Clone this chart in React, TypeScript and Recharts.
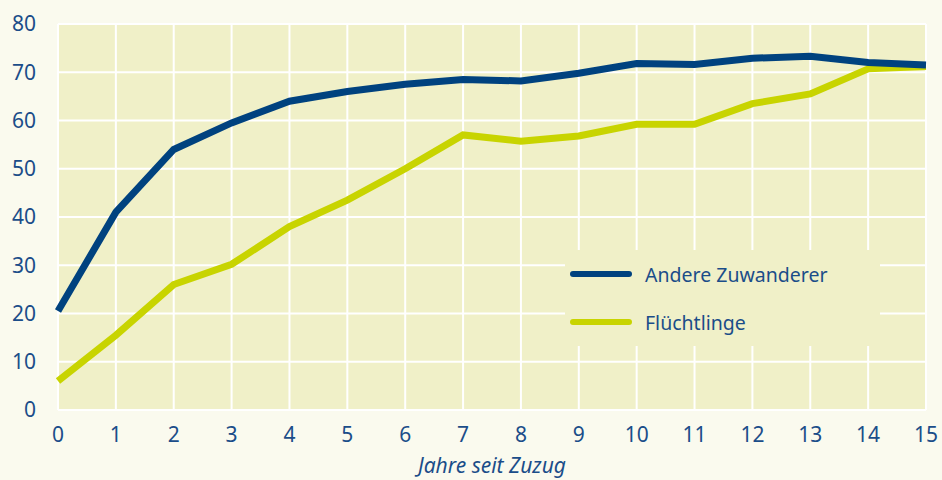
import { LineChart, Line, XAxis, YAxis, CartesianGrid } from 'recharts';

const years = [0, 1, 2, 3, 4, 5, 6, 7, 8, 9, 10, 11, 12, 13, 14, 15];
const andereZuwanderer = [20.5, 41, 54, 59.5, 64, 66, 67.5, 68.5, 68.2, 69.8, 71.8, 71.6, 72.9, 73.3, 72, 71.5];
const fluechtlinge = [6, 15.5, 26, 30.2, 38, 43.5, 50, 57, 55.7, 56.8, 59.2, 59.2, 63.5, 65.5, 70.7, 71.2];
const yTicks = [0, 10, 20, 30, 40, 50, 60, 70, 80];
const legendItems = ['Andere Zuwanderer', 'Flüchtlinge'];

const BLUE = '#00427f';
const GREEN = '#c8d400';
const TEXT = '#1b4d89';
const FONT = '"Noto Sans", sans-serif';

const data = years.map((year, i) => ({
  year,
  andere: andereZuwanderer[i],
  fluecht: fluechtlinge[i],
}));

// legend sits on a plain box over the grid, like the original
function LegendBox() {
  const colors = [BLUE, GREEN];
  return (
    <div
      style={{
        position: 'absolute',
        left: 565,
        top: 250,
        width: 315,
        height: 96,
        background: '#f0f0c8',
      }}
    >
      {legendItems.map((label, i) => (
        <div key={label} style={{ display: 'flex', alignItems: 'center', height: 48 }}>
          <svg width={77} height={10} style={{ marginLeft: 3 }}>
            <line x1={5} y1={5} x2={61} y2={5} stroke={colors[i]} strokeWidth={6} strokeLinecap="round" />
          </svg>
          <span style={{ fontFamily: FONT, fontSize: 19.5, color: TEXT }}>{label}</span>
        </div>
      ))}
    </div>
  );
}

export default function App() {
  return (
    <div style={{ position: 'absolute', left: 0, top: 0, width: 942, height: 480, background: '#fafaee' }}>
      <LineChart width={942} height={480} data={data} margin={{ top: 24, right: 16, left: 0, bottom: 0 }}>
        <CartesianGrid stroke="#ffffff" strokeWidth={2} fill="#f0f0c8" />
        <XAxis
          dataKey="year"
          type="number"
          domain={[0, 15]}
          ticks={years}
          axisLine={false}
          tickLine={false}
          tickSize={0}
          tickMargin={17}
          height={70}
          tick={{ fill: TEXT, fontSize: 21, fontFamily: FONT }}
          label={{
            value: 'Jahre seit Zuzug',
            position: 'insideBottom',
            offset: 7,
            fill: TEXT,
            fontSize: 21,
            fontStyle: 'italic',
            fontFamily: FONT,
          }}
        />
        <YAxis
          type="number"
          domain={[0, 80]}
          ticks={yTicks}
          axisLine={false}
          tickLine={false}
          tickSize={0}
          tickMargin={22}
          width={58}
          tick={{ fill: TEXT, fontSize: 21, fontFamily: FONT }}
        />
        <Line dataKey="fluecht" stroke={GREEN} strokeWidth={7} dot={false} isAnimationActive={false} />
        <Line dataKey="andere" stroke={BLUE} strokeWidth={7} dot={false} isAnimationActive={false} />
      </LineChart>
      <LegendBox />
    </div>
  );
}
